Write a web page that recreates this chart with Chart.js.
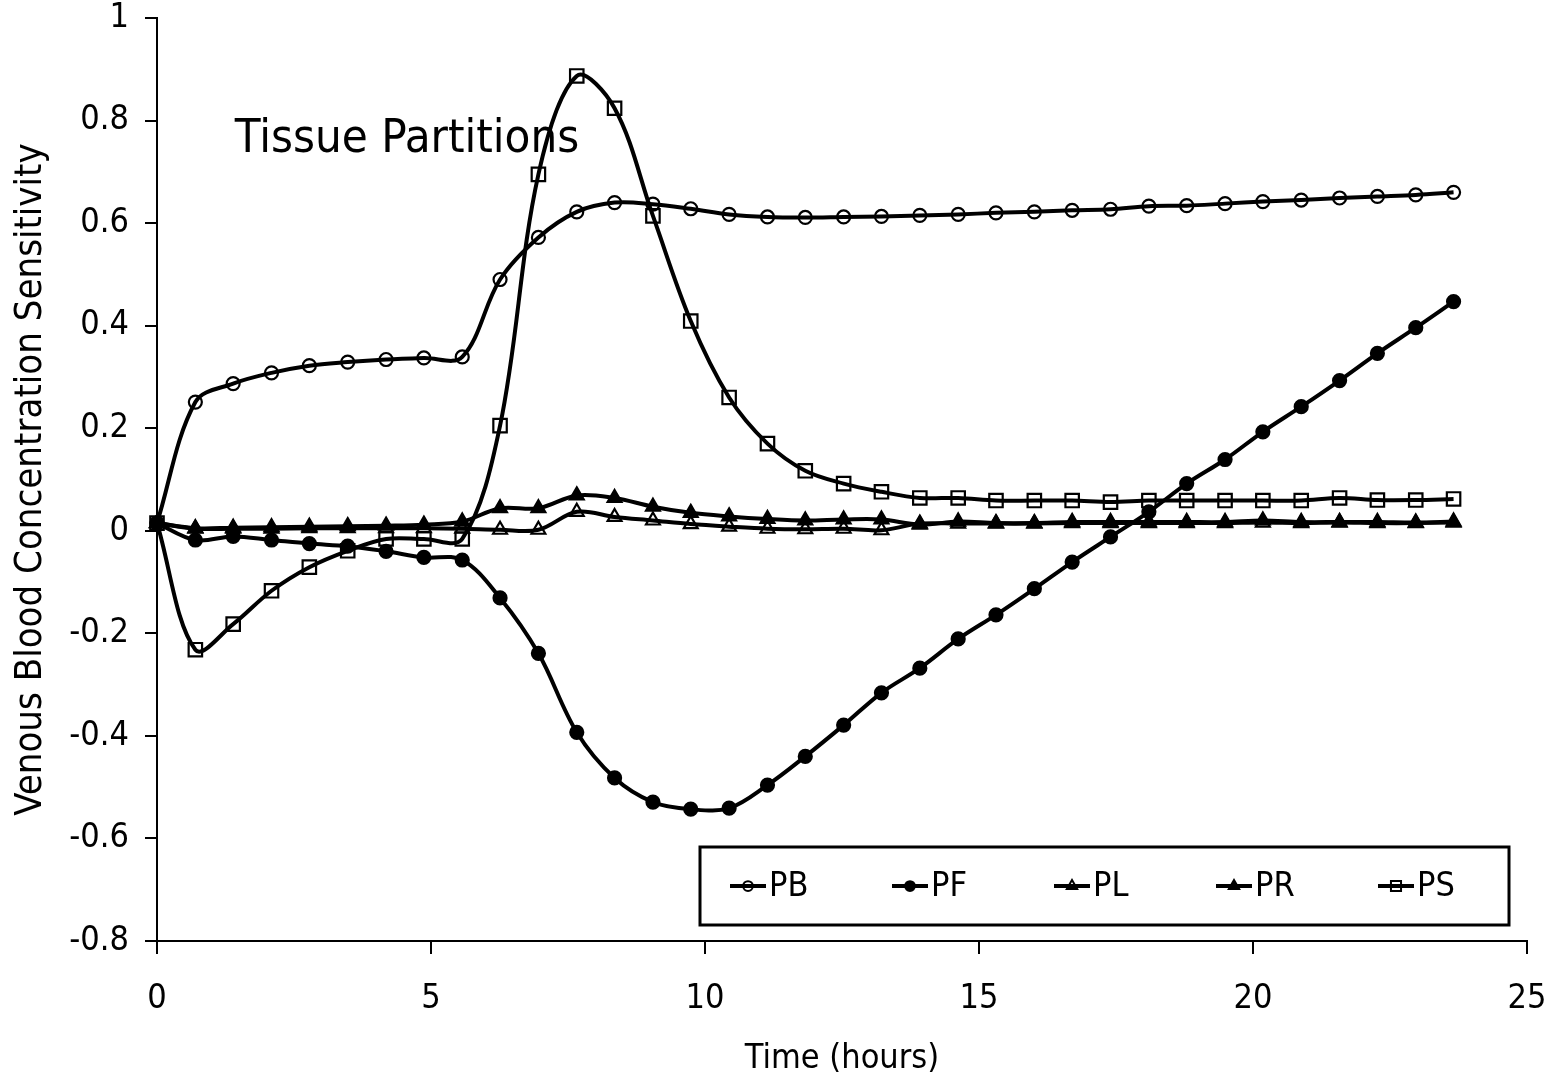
<!DOCTYPE html>
<html>
<head>
<meta charset="utf-8">
<script src="https://cdn.jsdelivr.net/npm/chart.js@4.4.1/dist/chart.umd.min.js"></script>
<style>
  html, body { margin: 0; padding: 0; background: #fff; }
  #wrap { width: 1562px; height: 1085px; }
</style>
</head>
<body>
<div id="wrap"><canvas id="sens-chart" width="1562" height="1085"></canvas></div>
<script>
// sample times (hours)
const times = [0, 0.70, 1.39, 2.09, 2.78, 3.48, 4.18, 4.87, 5.57, 6.26, 6.96, 7.66, 8.35, 9.05, 9.74,
  10.44, 11.14, 11.83, 12.53, 13.22, 13.92, 14.62, 15.31, 16.01, 16.70, 17.40, 18.10, 18.79, 19.49,
  20.18, 20.88, 21.58, 22.27, 22.97, 23.66];

const seriesNames = ['PB', 'PF', 'PL', 'PR', 'PS'];

const pb = [0.015, 0.251, 0.287, 0.308, 0.322, 0.329, 0.334, 0.337, 0.339, 0.490, 0.572, 0.622, 0.640,
  0.637, 0.628, 0.617, 0.612, 0.611, 0.612, 0.613, 0.615, 0.617, 0.620, 0.622, 0.625, 0.627, 0.633,
  0.634, 0.638, 0.642, 0.645, 0.649, 0.652, 0.655, 0.660];

const pf = [0.015, -0.018, -0.011, -0.018, -0.025, -0.030, -0.040, -0.052, -0.057, -0.131, -0.239,
  -0.393, -0.482, -0.529, -0.543, -0.541, -0.496, -0.440, -0.379, -0.316, -0.268, -0.211, -0.164,
  -0.113, -0.061, -0.012, 0.037, 0.092, 0.139, 0.193, 0.242, 0.293, 0.346, 0.396, 0.447];

const pl = [0.015, 0.004, 0.004, 0.004, 0.005, 0.005, 0.005, 0.005, 0.004, 0.002, 0.002, 0.037, 0.027,
  0.020, 0.013, 0.008, 0.004, 0.003, 0.004, 0.001, 0.014, 0.014, 0.014, 0.014, 0.015, 0.015, 0.015,
  0.015, 0.015, 0.016, 0.015, 0.016, 0.015, 0.015, 0.016];

const pr = [0.015, 0.005, 0.006, 0.007, 0.008, 0.009, 0.010, 0.012, 0.018, 0.044, 0.044, 0.069, 0.064,
  0.047, 0.035, 0.028, 0.023, 0.020, 0.022, 0.022, 0.012, 0.018, 0.015, 0.015, 0.017, 0.017, 0.017,
  0.017, 0.017, 0.020, 0.017, 0.017, 0.017, 0.016, 0.018];

const ps = [0.015, -0.232, -0.182, -0.117, -0.071, -0.039, -0.016, -0.016, -0.016, 0.205, 0.695, 0.887,
  0.824, 0.614, 0.409, 0.260, 0.170, 0.117, 0.092, 0.076, 0.064, 0.064, 0.059, 0.059, 0.059, 0.056,
  0.059, 0.059, 0.059, 0.059, 0.059, 0.064, 0.060, 0.060, 0.062];

const xTitle = 'Time (hours)';
const yTitle = 'Venous Blood Concentration Sensitivity';
const noteText = 'Tissue Partitions';

const FONT = "'DejaVu Sans Condensed', 'DejaVu Sans', sans-serif";

// marker look per series
const markers = [
  { style: 'circle', radius: 6.5, fill: 'rgba(0,0,0,0)' },
  { style: 'circle', radius: 6.5, fill: '#000' },
  { style: 'triangle', radius: 8, fill: 'rgba(0,0,0,0)' },
  { style: 'triangle', radius: 8, fill: '#000' },
  { style: 'rect', radius: 9.5, fill: 'rgba(0,0,0,0)' }
];

function makeDataset(name, values, i) {
  const m = markers[i];
  return {
    label: name,
    data: times.map((t, k) => ({ x: t, y: values[k] })),
    borderColor: '#000',
    borderWidth: 4,
    tension: 0.35,
    pointStyle: m.style,
    pointRadius: m.radius,
    pointBackgroundColor: m.fill,
    pointBorderColor: '#000',
    pointBorderWidth: 2.2,
    clip: false
  };
}

// "Tissue Partitions" note, drawn under the curves
const notePlugin = {
  id: 'note',
  beforeDatasetsDraw(chart) {
    const { ctx, scales: { x, y } } = chart;
    ctx.save();
    ctx.font = '47px ' + FONT;
    ctx.fillStyle = '#000';
    ctx.textBaseline = 'alphabetic';
    ctx.fillText(noteText, x.getPixelForValue(1.42), y.getPixelForValue(0.739));
    ctx.restore();
  }
};

// boxed legend with line + marker samples, like the original
const boxLegend = {
  id: 'boxLegend',
  afterDraw(chart) {
    const ctx = chart.ctx;
    const box = { left: 700, top: 847, right: 1509, bottom: 925 };
    const cy = (box.top + box.bottom) / 2;
    ctx.save();
    ctx.fillStyle = '#fff';
    ctx.fillRect(box.left, box.top, box.right - box.left, box.bottom - box.top);
    ctx.strokeStyle = '#000';
    ctx.lineWidth = 3;
    ctx.strokeRect(box.left, box.top, box.right - box.left, box.bottom - box.top);

    ctx.font = '34px ' + FONT;
    ctx.textBaseline = 'middle';
    chart.data.datasets.forEach((ds, i) => {
      const lx = 730 + i * 162;
      ctx.strokeStyle = '#000';
      ctx.lineWidth = 4;
      ctx.beginPath();
      ctx.moveTo(lx, cy);
      ctx.lineTo(lx + 36, cy);
      ctx.stroke();
      ctx.fillStyle = markers[i].fill;
      ctx.lineWidth = 2;
      Chart.helpers.drawPoint(ctx, {
        pointStyle: markers[i].style,
        radius: markers[i].radius * 0.75,
        rotation: 0,
        borderWidth: 2
      }, lx + 18, cy);
      ctx.fillStyle = '#000';
      ctx.fillText(ds.label, lx + 39, cy + 1);
    });
    ctx.restore();
  }
};

function tickText(value) {
  return String(Number(value.toFixed(2)));
}

function createChart() {
  const ctx = document.getElementById('sens-chart').getContext('2d');
  new Chart(ctx, {
    type: 'line',
    data: {
      datasets: [
        makeDataset(seriesNames[0], pb, 0),
        makeDataset(seriesNames[1], pf, 1),
        makeDataset(seriesNames[2], pl, 2),
        makeDataset(seriesNames[3], pr, 3),
        makeDataset(seriesNames[4], ps, 4)
      ]
    },
    options: {
      responsive: false,
      animation: false,
      devicePixelRatio: 1,
      layout: { padding: 0 },
      plugins: {
        legend: { display: false },
        tooltip: { enabled: false }
      },
      scales: {
        x: {
          type: 'linear',
          min: 0,
          max: 25,
          ticks: { stepSize: 5, color: '#000', font: { family: FONT, size: 34 }, padding: 25, maxRotation: 0, callback: tickText },
          grid: { drawOnChartArea: false, drawTicks: true, tickLength: 13, color: '#000', lineWidth: 2 },
          border: { display: true, color: '#000', width: 2 },
          title: { display: true, text: xTitle, color: '#000', font: { family: FONT, size: 34 }, padding: { top: 0, bottom: 5 } },
          afterFit(scale) {
            scale.height = 144;
            scale.paddingLeft = 0;
            scale.paddingRight = 35;
          }
        },
        y: {
          min: -0.8,
          max: 1,
          ticks: { stepSize: 0.2, color: '#000', font: { family: FONT, size: 34 }, padding: 16, callback: tickText },
          grid: { drawOnChartArea: false, drawTicks: true, tickLength: 12, color: '#000', lineWidth: 2 },
          border: { display: true, color: '#000', width: 2 },
          title: { display: true, text: yTitle, color: '#000', font: { family: FONT, size: 38 }, padding: { top: 8, bottom: 0 } },
          afterFit(scale) {
            scale.width = 157;
            scale.paddingTop = 18;
            scale.paddingBottom = 0;
          }
        }
      }
    },
    plugins: [notePlugin, boxLegend]
  });
}

createChart();
</script>
</body>
</html>
